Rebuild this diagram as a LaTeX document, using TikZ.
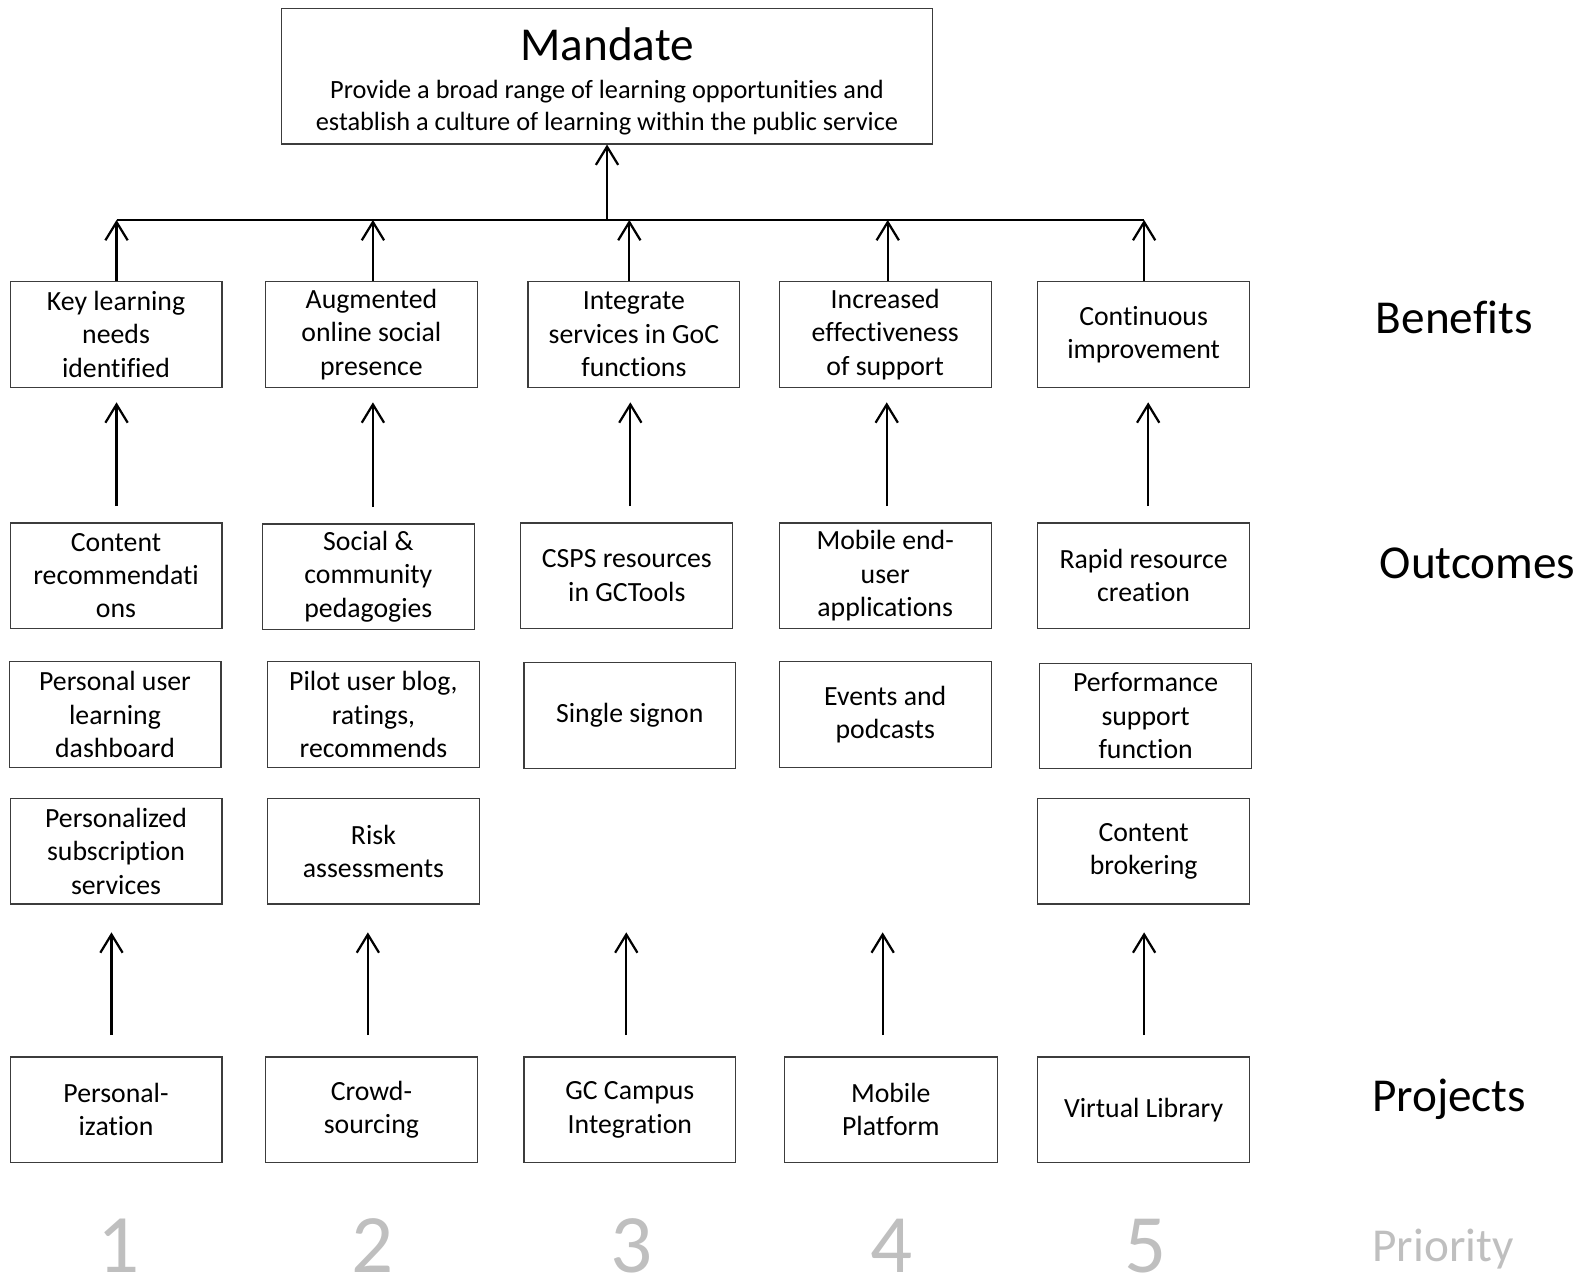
\documentclass[tikz,border=0pt]{standalone}
\usepackage{fontspec}
\setmainfont{Carlito}[Ligatures=NoCommon]
\usetikzlibrary{arrows.meta}
\definecolor{prio}{RGB}{191,191,191}
\definecolor{boxline}{RGB}{60,60,60}
\begin{document}
\begin{tikzpicture}[x=0.5pt,y=-0.5pt,
 box/.style={draw=boxline, line width=0.6pt, minimum width=104.5pt, minimum height=52pt, inner sep=0pt, align=center, font=\fontsize{13.7}{16.5}\selectfont},
 arr/.style={line width=1.1pt, -{Straight Barb[length=9pt,width=11pt]}},
 side/.style={anchor=base, inner sep=0pt, font=\fontsize{23.3}{28}\selectfont},
 prionum/.style={anchor=base, inner sep=0pt, text=prio, font=\fontsize{41}{48}\selectfont},
 sub/.style={anchor=base, inner sep=0pt, font=\fontsize{13}{16}\selectfont},
]
\path[use as bounding box] (0,0) rectangle (1568,1266);

% Mandate
\node[draw=boxline, line width=0.6pt, minimum width=321pt, minimum height=67pt, inner sep=0pt] (m) at (599,75) {};
\node[side] (mt) at (599,60) {Mandate};
\node[sub] (ms1) at (599,97) {Provide a broad range of learning opportunities and};
\node[sub] (ms2) at (599,129) {establish a culture of learning within the public service};

% Benefits
\node[box] (b1) at (114.5,330) {Key learning\\needs\\identified};
\node[box] (b2) at (366.5,330) {Augmented\\online social\\presence};
\node[box] (b3) at (625.5,330) {Integrate\\services in GoC\\functions};
\node[box] (b4) at (873.5,330) {Increased\\effectiveness\\of support};
\node[box] (b5) at (1128.5,330) {Continuous\\improvement};

% Outcomes
\node[box] (o1) at (114.5,568) {Content\\recommendati\\ons};
\node[box] (o2) at (363.5,569) {Social \&\\community\\pedagogies};
\node[box] (o3) at (618.5,568) {CSPS resources\\in GCTools};
\node[box] (o4) at (873.5,568) {Mobile end-\\user\\applications};
\node[box] (o5) at (1128.5,568) {Rapid resource\\creation};

% Row 3
\node[box] (r1) at (113.5,705) {Personal user\\learning\\dashboard};
\node[box] (r2) at (368.5,705) {Pilot user blog,\\ratings,\\recommends};
\node[box] (r3) at (621.5,706) {Single signon};
\node[box] (r4) at (873.5,705) {Events and\\podcasts};
\node[box] (r5) at (1130.5,706.5) {Performance\\support\\function};

% Row 4
\node[box] (s1) at (114.5,840) {Personalized\\subscription\\services};
\node[box] (s2) at (368.5,840) {Risk\\assessments};
\node[box] (s5) at (1128.5,840) {Content\\brokering};

% Projects
\node[box] (p1) at (114.5,1095) {Personal-\\ization};
\node[box] (p2) at (366.5,1095) {Crowd-\\sourcing};
\node[box] (p3) at (621.5,1095) {GC Campus\\Integration};
\node[box, minimum width=105pt] (p4) at (879,1095) {Mobile\\Platform};
\node[box] (p5) at (1128.5,1095) {Virtual Library};

% Side labels
\node[side] (lb) at (1435,329) {Benefits};
\node[side] (lo) at (1458,571) {Outcomes};
\node[side] (lp) at (1430,1097) {Projects};
\node[side, text=prio] (lpr) at (1424,1245) {Priority};
\node[prionum] (n1) at (117,1256) {1};
\node[prionum] (n2) at (368,1256) {2};
\node[prionum] (n3) at (623,1256) {3};
\node[prionum] (n4) at (880,1256) {4};
\node[prionum] (n5) at (1130,1256) {5};

% Bar and trunk
\coordinate (bar) at (599,217);
\coordinate (u1) at (115,217);
\coordinate (u2) at (368,217);
\coordinate (u3) at (621,217);
\coordinate (u4) at (876,217);
\coordinate (u5) at (1129,217);
\draw[line width=1.1pt] (u1) -- (u5);
\draw[arr] (bar) -- (m.south);
\foreach \i in {1,...,5} {\draw[arr] (b\i.north -| u\i) -- (u\i);}

% Outcomes -> Benefits
\coordinate (t1) at (115,397);
\coordinate (t2) at (368,397);
\coordinate (t3) at (622,397);
\coordinate (t4) at (875,397);
\coordinate (t5) at (1133,397);
\foreach \i in {1,...,5} {\draw[arr, shorten <=8pt] (o\i.north -| t\i) -- (t\i);}

% Projects -> above
\coordinate (q1) at (110,920);
\coordinate (q2) at (363,920);
\coordinate (q3) at (618,920);
\coordinate (q4) at (871,920);
\coordinate (q5) at (1129,920);
\foreach \i in {1,...,5} {\draw[arr, shorten <=10.5pt] (p\i.north -| q\i) -- (q\i);}
\end{tikzpicture}
\end{document}
